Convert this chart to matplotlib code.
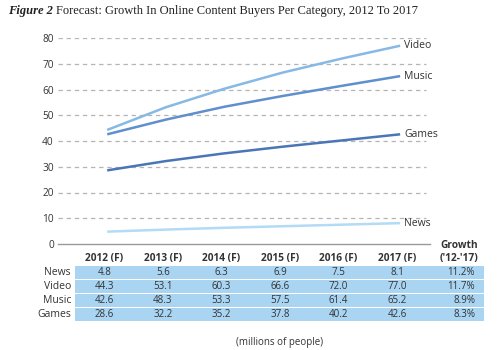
import matplotlib.pyplot as plt
import matplotlib.transforms as mtransforms
from matplotlib.patches import Rectangle
import numpy as np

# data
years = [2012, 2013, 2014, 2015, 2016, 2017]
year_labels = ['2012 (F)', '2013 (F)', '2014 (F)', '2015 (F)', '2016 (F)', '2017 (F)']
categories = ['News', 'Video', 'Music', 'Games']
news = [4.8, 5.6, 6.3, 6.9, 7.5, 8.1]
video = [44.3, 53.1, 60.3, 66.6, 72.0, 77.0]
music = [42.6, 48.3, 53.3, 57.5, 61.4, 65.2]
games = [28.6, 32.2, 35.2, 37.8, 40.2, 42.6]
growth = ['11.2%', '11.7%', '8.9%', '8.3%']

series = [news, video, music, games]
colors = ['#b3dbf5', '#86b9e3', '#5f8fcc', '#4a76b5']

TEXT_C = '#333333'
GRID_C = '#b5b5b5'
ROW_BG = '#a9d4f2'
SANS = ['Open Sans', 'DejaVu Sans']

W, H = 501, 350
fig = plt.figure(figsize=(W / 100, H / 100), dpi=100)
fig.patch.set_facecolor('white')

# axes placed in pixel terms
left, right, bottom, top = 58, 430, 244, 38
ax = fig.add_axes([left / W, 1 - bottom / H, (right - left) / W, (bottom - top) / H])
ax.set_facecolor('none')
ax.set_ylim(0, 80)
ax.set_xlim(2011.16, 2017.51)

for vals, c in zip(series, colors):
    ax.plot(years, vals, color=c, lw=1.8, solid_capstyle='butt', clip_on=False, zorder=3)

for name, vals, c in zip(categories, series, colors):
    ax.annotate(name, (years[-1], vals[-1]), xytext=(3, 0), textcoords='offset points',
                va='center', ha='left', fontsize=7.5, color=TEXT_C, family=SANS)

ax.set_yticks(np.arange(0, 81, 10))
for y in range(10, 81, 10):
    ax.axhline(y, xmin=0, xmax=0.99, color=GRID_C, lw=0.9, ls=(0, (3.5, 3)), zorder=1)
ax.tick_params(axis='y', length=0, pad=3, labelsize=7.3, labelcolor=TEXT_C)
ax.set_xticks([])
for s in ['top', 'right', 'left']:
    ax.spines[s].set_visible(False)
ax.spines['bottom'].set_color('#999999')
ax.spines['bottom'].set_linewidth(1.0)
for lab in ax.get_yticklabels():
    lab.set_family(SANS)

# table below, x from data, y in figure pixels
tr = mtransforms.blended_transform_factory(ax.transData, fig.transFigure)
fy = lambda py: 1 - py / H

for yr, lab in zip(years, year_labels):
    ax.text(yr - 0.05, fy(259), lab, transform=tr, ha='center', va='center',
            fontsize=7.3, fontweight='bold', color=TEXT_C, family=SANS)
gx = 2018.0
ax.text(gx, fy(246), 'Growth', transform=tr, ha='center', va='center',
        fontsize=7.3, fontweight='bold', color=TEXT_C, family=SANS)
ax.text(gx, fy(259), "('12-'17)", transform=tr, ha='center', va='center',
        fontsize=7.3, fontweight='bold', color=TEXT_C, family=SANS)

row_top = [266, 280, 294, 308]
row_h = 13
for i, (name, vals, g) in enumerate(zip(categories, series, growth)):
    y0 = row_top[i]
    fig.patches.append(Rectangle((75 / W, fy(y0 + row_h)), (484 - 75) / W, row_h / H,
                                 transform=fig.transFigure, facecolor=ROW_BG,
                                 edgecolor='none', zorder=-1))
    yc = fy(y0 + row_h / 2)
    fig.text(71 / W, yc, name, ha='right', va='center', fontsize=7.5,
             color=TEXT_C, family=SANS)
    for yr, v in zip(years, vals):
        ax.text(yr - 0.05, yc, f'{v:.1f}', transform=tr, ha='center', va='center',
                fontsize=7, color=TEXT_C, family=SANS)
    ax.text(2018.28, yc, g, transform=tr, ha='right', va='center',
            fontsize=7, color=TEXT_C, family=SANS)

fig.text(0.5 * (75 + 484) / W, fy(342), '(millions of people)', ha='center', va='center',
         fontsize=7, color=TEXT_C, family=SANS)

# title
fig.text(8 / W, fy(11), 'Figure 2', ha='left', va='center', fontsize=9,
         fontweight='bold', fontstyle='italic', color='#222222', family='Liberation Serif')
fig.text(56 / W, fy(11), 'Forecast: Growth In Online Content Buyers Per Category, 2012 To 2017',
         ha='left', va='center', fontsize=9, color='#222222', family='Liberation Serif')

fig.savefig('out.png', dpi=100, facecolor='white')
